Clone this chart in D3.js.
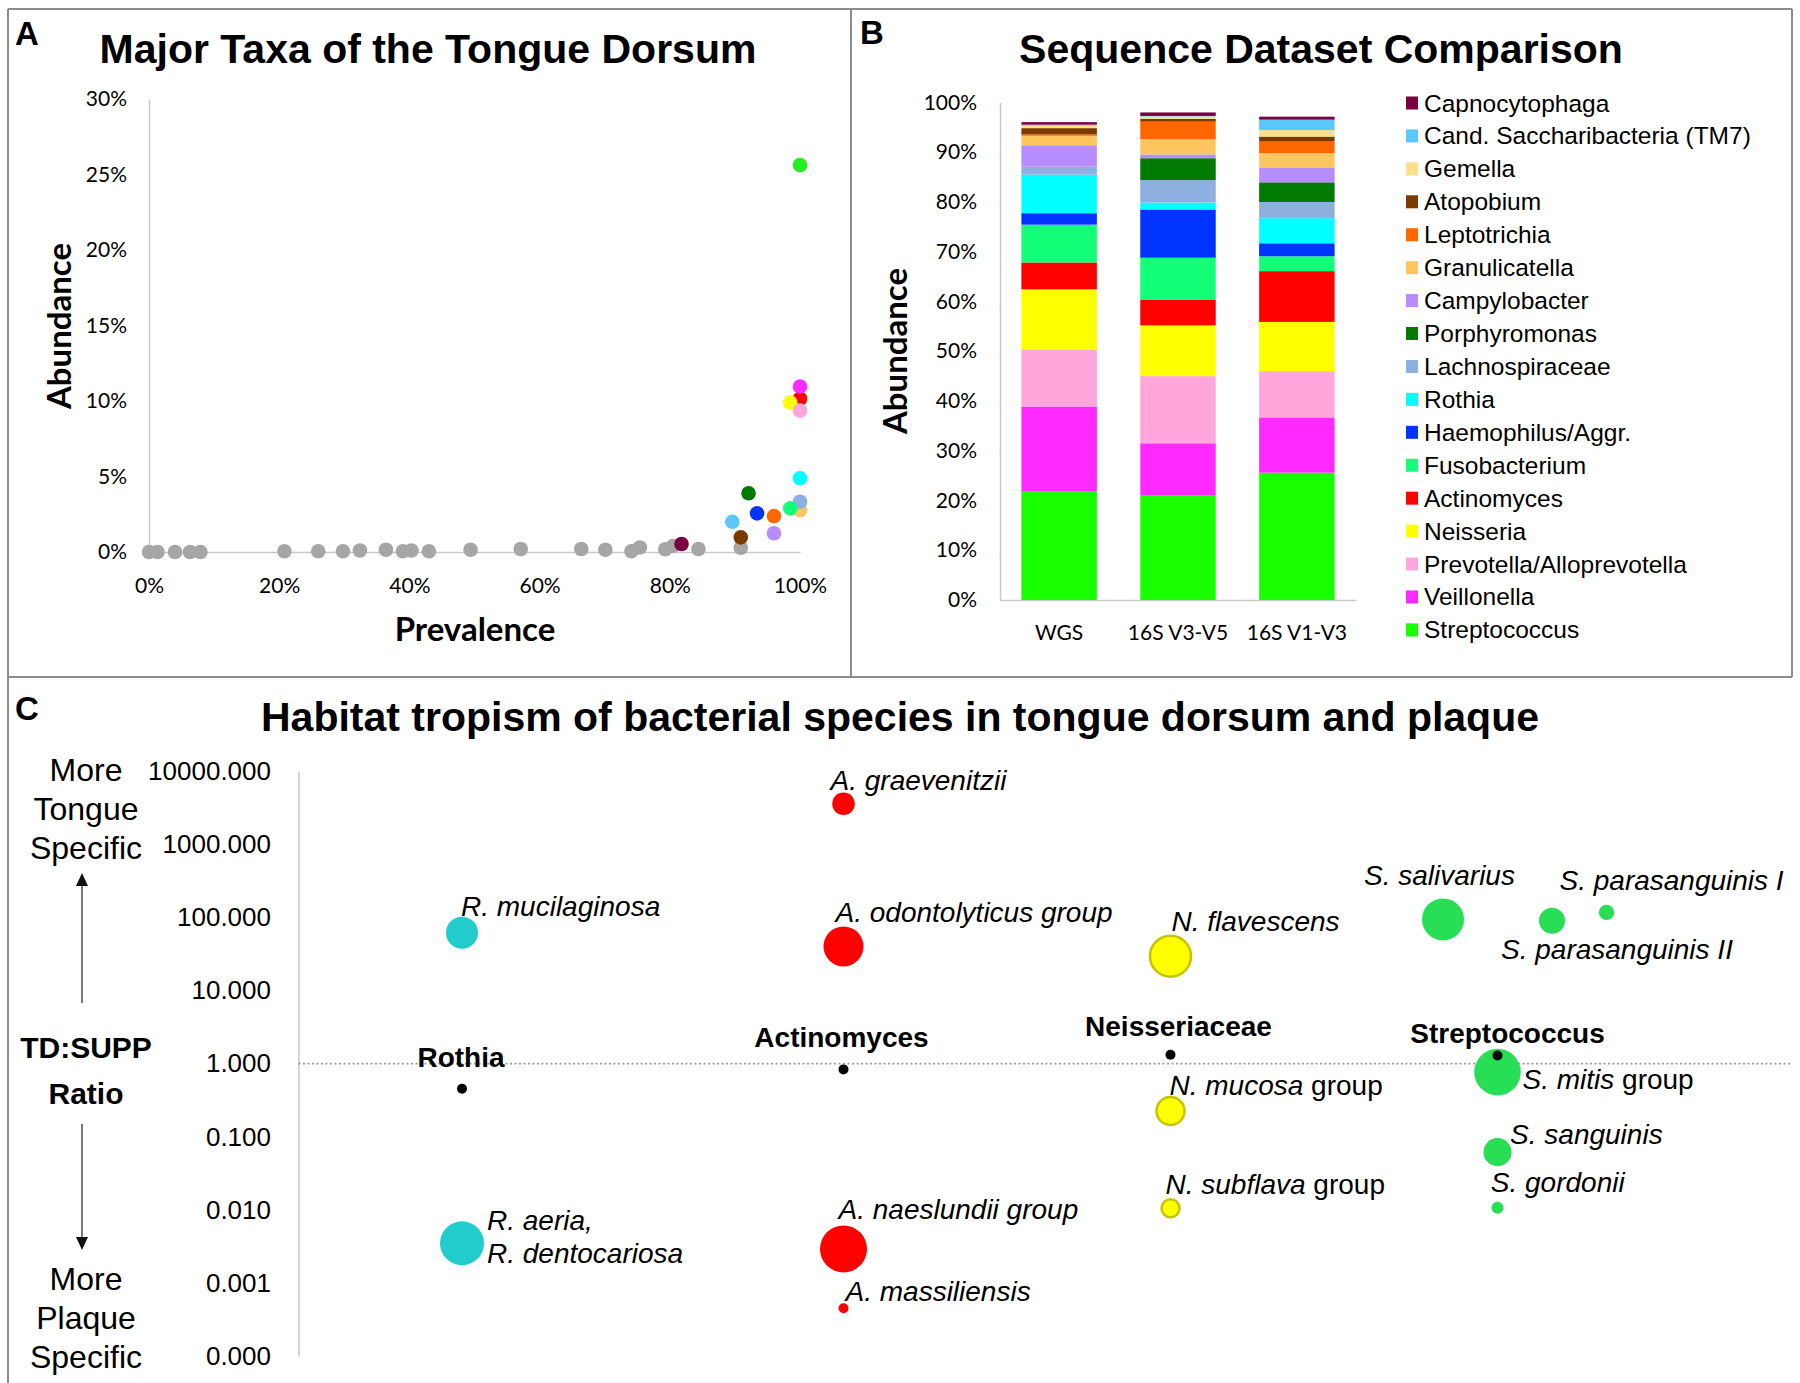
<!DOCTYPE html>
<html><head><meta charset="utf-8">
<script src="https://cdn.jsdelivr.net/npm/d3@7"></script>
<style>
body{margin:0;background:#fff}
svg{display:block}
text{font-family:"Liberation Sans",Arial,sans-serif;fill:#000}
</style>
</head><body>
<svg id="fig" width="1800" height="1383"></svg>
<script>
// ================= DATA =================
// Panel A: minor taxa (grey) prevalence % / abundance %
const otherPrevalence = [0,1.3,4,6.3,7.9,20.8,26,29.8,32.4,36.4,39,40.3,43,49.4,57.1,66.4,70.1,74.1,75.4,79.3,80.5,84.4,90.9];
const otherAbundance  = [0,0,0,0,0,0.05,0.05,0.05,0.1,0.15,0.05,0.1,0.05,0.15,0.2,0.2,0.15,0.05,0.3,0.18,0.4,0.2,0.28];

// Genera (legend order, top to bottom)
const genera = ["Capnocytophaga","Cand. Saccharibacteria (TM7)","Gemella","Atopobium","Leptotrichia","Granulicatella","Campylobacter","Porphyromonas","Lachnospiraceae","Rothia","Haemophilus/Aggr.","Fusobacterium","Actinomyces","Neisseria","Prevotella/Alloprevotella","Veillonella","Streptococcus"];
const generaColors = ["#7b0041","#5ac8fa","#ffe08a","#7a3a00","#ff6600","#ffc660","#b68cff","#007a00","#8db0e0","#00ffff","#0033ff","#14ff78","#ff0000","#ffff00","#ffa6dc","#ff2aff","#1aff00"];
// Panel A: major genera prevalence % / abundance % (null = not shown)
const generaPrevalence = [81.8,89.6,null,90.9,96.0,100,96.0,92.1,100,100,93.4,98.5,100,98.5,100,100,100];
const generaAbundance  = [0.53,2.0,null,0.97,2.38,2.78,1.24,3.89,3.33,4.88,2.56,2.89,10.15,9.89,9.36,10.95,25.63];

// Panel B: stacked abundance %, values in legend order (top to bottom)
const datasets = ["WGS","16S V3-V5","16S V1-V3"];
const wgsValues  = [0.5,0.2,0.5,1.25,0.3,1.9,4.3,0.0,1.6,7.75,2.3,7.6,5.4,12.2,11.35,17.0,21.9];
const v3v5Values = [0.7,0.1,0.5,0.55,3.5,3.1,0.75,4.4,4.5,1.4,9.7,8.4,5.2,10.2,13.5,10.4,21.1];
const v1v3Values = [0.6,2.1,1.3,1.0,2.3,2.9,3.0,3.95,3.25,5.05,2.6,3.0,10.2,9.9,9.3,11.1,25.6];
const yTicksB = [0,10,20,30,40,50,60,70,80,90,100];
const yTicksA = [0,5,10,15,20,25,30];
const xTicksA = [0,20,40,60,80,100];

// Panel C: species TD:SUPP ratio, column position, relative abundance
const speciesItalic = ["R. mucilaginosa","R. aeria,","A. graevenitzii","A. odontolyticus group","A. naeslundii group","A. massiliensis","N. flavescens","N. mucosa","N. subflava","S. salivarius","S. parasanguinis I","S. parasanguinis II","S. mitis","S. sanguinis","S. gordonii"];
const speciesRoman  = ["","","","","","",""," group"," group","","",""," group","",""];
const speciesSecondLine = ["","R. dentocariosa","","","","","","","","","","","","",""];
const speciesGenus  = ["Rothia","Rothia","Actinomyces","Actinomyces","Actinomyces","Actinomyces","Neisseriaceae","Neisseriaceae","Neisseriaceae","Streptococcus","Streptococcus","Streptococcus","Streptococcus","Streptococcus","Streptococcus"];
const speciesColumn = [3,3,10,10,10,10,16,16,16,21,24,23,22,22,22];
const speciesRatio  = [61.8,0.00349,3590,40.1,0.00291,0.000451,29.5,0.225,0.0105,93.9,117,90.1,0.765,0.0615,0.0107];
const speciesAbund  = [4.1,7.74,2.04,6.4,8.84,0.4,6.72,3.14,1.3,7.06,0.95,2.7,8.69,3.14,0.58];
const genusNamesC   = ["Rothia","Actinomyces","Neisseriaceae","Streptococcus"];
const genusColumnC  = [3,10,16,22];
const genusRatioC   = [0.454,0.833,1.32,1.29];
const yTicksC = [10000,1000,100,10,1,0.1,0.01,0.001,0.0001];

// ================= STYLES / LAYOUT =================
const genusColorC = {Rothia:"#22cccc",Actinomyces:"#ff0000",Neisseriaceae:"#ffff00",Streptococcus:"#27de55"};
const genusStrokeC = {Rothia:"none",Actinomyces:"none",Neisseriaceae:"#c4c400",Streptococcus:"none"};
// label offsets (dx, dy from bubble centre)
const labelOffsets = [[-1,-17],[25,-13.5],[-13,-14],[-8,-24],[-5,-30],[2,-7],[1,-25],[-1,-16],[-5,-14],[-79,-34],[-47,-22],[-51,38],[25,16.6],[12.6,-8.4],[-6.7,-15.6]];
const genusLabelOffsets = [[-1,-21.6],[-2,-22.5],[8,-18.5],[10,-13]];

const svg = d3.select("#fig");
svg.append("rect").attr("width",1800).attr("height",1383).attr("fill","#fff");

// frame
const frame = svg.append("g").attr("stroke","#8c8c8c").attr("stroke-width",2);
[[8,9,1792,9],[8,9,8,1383],[1792,9,1792,677],[851,9,851,677],[8,677,1792,677]].forEach(l=>{
  frame.append("line").attr("x1",l[0]).attr("y1",l[1]).attr("x2",l[2]).attr("y2",l[3]);
});

function styleAxis(g, font, size){
  g.select(".domain").attr("stroke","#c8c8c8").attr("stroke-width",1.5);
  g.selectAll("text").style("font-family",font).style("font-size",size+"px").attr("fill","#111");
}

// ================= PANEL A =================
const xA = d3.scaleLinear().domain([0,100]).range([149,800]);
const yA = d3.scaleLinear().domain([0,30]).range([552,99]);
const gA = svg.append("g");
gA.append("g").attr("transform","translate(149,0)")
  .call(d3.axisLeft(yA).tickValues(yTicksA).tickFormat(d=>d+"%").tickSize(0).tickPadding(22))
  .call(g=>styleAxis(g,"Lato",21));
gA.append("g").attr("transform","translate(0,552)")
  .call(d3.axisBottom(xA).tickValues(xTicksA).tickFormat(d=>d+"%").tickSize(0).tickPadding(26))
  .call(g=>styleAxis(g,"Lato",21));
gA.selectAll("circle.other").data(otherPrevalence.map((p,i)=>({p,a:otherAbundance[i]})))
  .join("circle").attr("class","other")
  .attr("cx",d=>xA(d.p)).attr("cy",d=>yA(d.a)).attr("r",7.3).attr("fill","#a6a6a6");
const genPts = genera.map((g,i)=>({g,c:generaColors[i],p:generaPrevalence[i],a:generaAbundance[i]})).filter(d=>d.p!==null);
gA.selectAll("circle.gen").data(genPts).join("circle").attr("class","gen")
  .attr("cx",d=>xA(d.p)).attr("cy",d=>yA(d.a)).attr("r",7.3).attr("fill",d=>d.g==="Streptococcus"?"#22ee22":d.c);
gA.append("text").attr("x",15).attr("y",45).style("font-weight","bold").style("font-size","33px").text("A");
gA.append("text").attr("x",428).attr("y",62.5).attr("text-anchor","middle").style("font-weight","bold").style("font-size","41px").text("Major Taxa of the Tongue Dorsum");
gA.append("text").attr("transform","translate(71,326) rotate(-90)").attr("text-anchor","middle")
  .style("font-family","Lato").style("font-weight","bold").style("font-size","33px").text("Abundance");
gA.append("text").attr("x",475).attr("y",641).attr("text-anchor","middle")
  .style("font-family","Lato").style("font-weight","bold").style("font-size","33px").text("Prevalence");

// ================= PANEL B =================
const stackKeys = genera.slice().reverse(); // bottom to top
const valueSets = [wgsValues, v3v5Values, v1v3Values];
const rowsB = datasets.map((ds,j)=>{
  const r = {dataset:ds};
  genera.forEach((g,i)=>{ r[g]=valueSets[j][i]; });
  return r;
});
const seriesB = d3.stack().keys(stackKeys)(rowsB);
const colorB = d3.scaleOrdinal().domain(genera).range(generaColors);
const xB = d3.scaleBand().domain(datasets).range([1000,1356]).paddingInner(0.365).paddingOuter(0.18);
const yB = d3.scaleLinear().domain([0,100]).range([600,102.5]);
const gB = svg.append("g");
gB.append("g").attr("transform","translate(1000,0)")
  .call(d3.axisLeft(yB).tickValues(yTicksB).tickFormat(d=>d+"%").tickSize(0).tickPadding(23))
  .call(g=>styleAxis(g,"Lato",21));
gB.append("g").attr("transform","translate(0,600)")
  .call(d3.axisBottom(xB).tickSize(0).tickPadding(25))
  .call(g=>styleAxis(g,"Lato",21));
gB.selectAll("g.layer").data(seriesB).join("g").attr("class","layer")
  .attr("fill",d=>colorB(d.key))
  .selectAll("rect").data(d=>d).join("rect")
  .attr("x",d=>xB(d.data.dataset)).attr("width",xB.bandwidth())
  .attr("y",d=>yB(d[1])).attr("height",d=>Math.max(0,yB(d[0])-yB(d[1])));
// legend
const legY = d3.scalePoint().domain(genera).range([103,629.9]);
const leg = gB.append("g");
leg.selectAll("rect").data(genera).join("rect")
  .attr("x",1406).attr("y",d=>legY(d)-6.5).attr("width",12).attr("height",13).attr("fill",d=>colorB(d));
leg.selectAll("text").data(genera).join("text")
  .attr("x",1424).attr("y",d=>legY(d)+8.5).style("font-size","24.5px").text(d=>d);
gB.append("text").attr("x",860).attr("y",44).style("font-weight","bold").style("font-size","33px").text("B");
gB.append("text").attr("x",1321).attr("y",62.5).attr("text-anchor","middle").style("font-weight","bold").style("font-size","41px").text("Sequence Dataset Comparison");
gB.append("text").attr("transform","translate(907,351) rotate(-90)").attr("text-anchor","middle")
  .style("font-family","Lato").style("font-weight","bold").style("font-size","33px").text("Abundance");

// ================= PANEL C =================
const xC = d3.scaleLinear().domain([0,27]).range([298.5,1770]);
const yC = d3.scaleLog().domain([0.0001,10000]).range([1356,771.2]);
const rC = d3.scaleSqrt().domain([0,10]).range([0,25]);
const gC = svg.append("g");
gC.append("g").attr("transform","translate(298.5,0)")
  .call(d3.axisLeft(yC).tickValues(yTicksC).tickFormat(d3.format(".3f")).tickSize(0).tickPadding(27.5))
  .call(g=>styleAxis(g,"Liberation Sans",26));
gC.append("line").attr("x1",298.5).attr("x2",1790).attr("y1",yC(1)).attr("y2",yC(1))
  .attr("stroke","#9a9a9a").attr("stroke-width",1.6).attr("stroke-dasharray","2,2.5");
gC.append("text").attr("x",15).attr("y",720).style("font-weight","bold").style("font-size","33px").text("C");
gC.append("text").attr("x",900).attr("y",731).attr("text-anchor","middle").style("font-weight","bold").style("font-size","41px")
  .text("Habitat tropism of bacterial species in tongue dorsum and plaque");
// side labels
const side = gC.append("g").attr("text-anchor","middle").style("font-size","32px");
[["More",780.7],["Tongue",820],["Specific",859.3],["More",1290],["Plaque",1329],["Specific",1368]].forEach(t=>{
  side.append("text").attr("x",86).attr("y",t[1]).text(t[0]);
});
side.append("text").attr("x",86).attr("y",1058.3).style("font-weight","bold").style("font-size","30px").text("TD:SUPP");
side.append("text").attr("x",86).attr("y",1103.8).style("font-weight","bold").style("font-size","30px").text("Ratio");
gC.append("line").attr("x1",82).attr("x2",82).attr("y1",1003).attr("y2",884).attr("stroke","#777").attr("stroke-width",2);
gC.append("path").attr("d","M82,873 L76,886 L88,886 Z").attr("fill","#111");
gC.append("line").attr("x1",82).attr("x2",82).attr("y1",1124).attr("y2",1239).attr("stroke","#777").attr("stroke-width",2);
gC.append("path").attr("d","M82,1250 L76,1237 L88,1237 Z").attr("fill","#111");

const spc = speciesItalic.map((n,i)=>({n,roman:speciesRoman[i],second:speciesSecondLine[i],
  genus:speciesGenus[i],col:speciesColumn[i],ratio:speciesRatio[i],ab:speciesAbund[i],off:labelOffsets[i]}));
gC.selectAll("circle.sp").data(spc).join("circle").attr("class","sp")
  .attr("cx",d=>xC(d.col)).attr("cy",d=>yC(d.ratio)).attr("r",d=>rC(d.ab))
  .attr("fill",d=>genusColorC[d.genus]).attr("stroke",d=>genusStrokeC[d.genus]).attr("stroke-width",2.5);
const gen = genusNamesC.map((n,i)=>({n,col:genusColumnC[i],ratio:genusRatioC[i],off:genusLabelOffsets[i]}));
gC.selectAll("circle.gn").data(gen).join("circle").attr("class","gn")
  .attr("cx",d=>xC(d.col)).attr("cy",d=>yC(d.ratio)).attr("r",5).attr("fill","#000");
gC.selectAll("text.gn").data(gen).join("text").attr("class","gn")
  .attr("x",d=>xC(d.col)+d.off[0]).attr("y",d=>yC(d.ratio)+d.off[1]).attr("text-anchor","middle")
  .style("font-weight","bold").style("font-size","28px").text(d=>d.n);
const lab = gC.selectAll("text.sp").data(spc).join("text").attr("class","sp")
  .attr("x",d=>xC(d.col)+d.off[0]).attr("y",d=>yC(d.ratio)+d.off[1]).style("font-size","28px");
lab.append("tspan").style("font-style","italic").text(d=>d.n);
lab.filter(d=>d.roman).append("tspan").text(d=>d.roman);
lab.filter(d=>d.second).append("tspan").style("font-style","italic")
  .attr("x",d=>xC(d.col)+d.off[0]).attr("dy",33.5).text(d=>d.second);
</script>
</body></html>
